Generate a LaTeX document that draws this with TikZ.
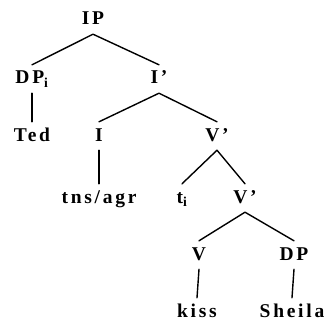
\documentclass[tikz,border=0pt]{standalone}
\usepackage{fontspec}
\setmainfont{Liberation Serif}[LetterSpace=14]
\begin{document}
\begin{tikzpicture}[x=1pt, y=1pt, line cap=round, line join=round,
	every node/.style={anchor=base, inner sep=6pt, text height=13pt, text depth=3pt, font=\fontsize{19.5}{22}\selectfont\bfseries},
	branch/.style={line width=1.4pt}]
	\useasboundingbox (0,0) rectangle (324,322);
	% labels
	\node (ip) at (93,297) {IP};
	\node (dp) at (32,238) {DP\textsubscript{i}};
	\node (ibar) at (159,238) {I'};
	\node (ted) at (32,181) {Ted};
	\node (i) at (99,181) {I};
	\node (vbar) at (217,181) {V'};
	\node (tns) at (99,119) {tns/agr};
	\node (t) at (182,119) {t\textsubscript{i}};
	\node (vbarb) at (245,119) {V'};
	\node (v) at (199,62) {V};
	\node (dpb) at (294,62) {DP};
	\node (kiss) at (197,5) {kiss};
	\node (sheila) at (292,5) {Sheila};
	% branches
	\draw[branch] (dp.north)--(ip.south)--(ibar.north);
	\draw[branch] (i.north)--(ibar.south)--(vbar.north);
	\draw[branch] (t.north)--(vbar.south)--(vbarb.north);
	\draw[branch] (v.north)--(vbarb.south)--(dpb.north);
	\foreach \a/\b in {dp/ted,i/tns,v/kiss,dpb/sheila}
		\draw[branch] (\a.south)--(\b.north);
\end{tikzpicture}
\end{document}
